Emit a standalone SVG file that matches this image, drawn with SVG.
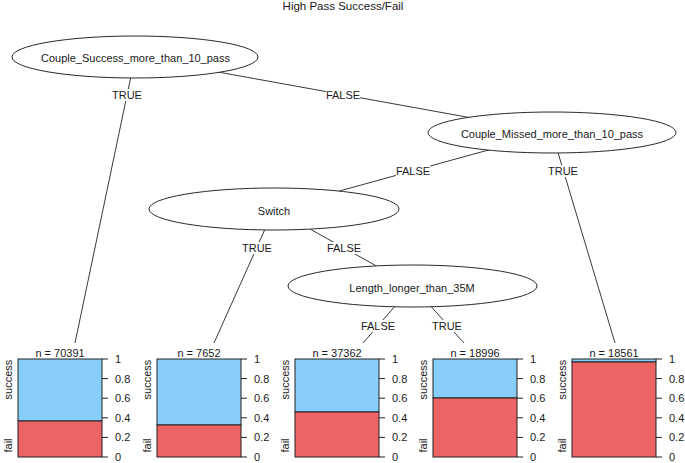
<svg xmlns="http://www.w3.org/2000/svg" width="685" height="463" viewBox="0 0 685 463">
<style>
text{font-family:"Liberation Sans",Arial,sans-serif;font-size:11px;fill:#1a1a1a}
.c{text-anchor:middle}
.edge{stroke:#3a3a3a;stroke-width:1;fill:none}
.node ellipse{fill:#fff;stroke:#2a2a2a;stroke-width:1}
.lb{fill:#fff}
.s{fill:#87CEFA;stroke:#222;stroke-width:1}
.f{fill:#EE6363;stroke:#222;stroke-width:1}
.tk{stroke:#222;stroke-width:1}
</style>
<defs>
<g id="axis">
<line class="tk" x1="84" y1="0" x2="90" y2="0"/>
<line class="tk" x1="84" y1="19.6" x2="90" y2="19.6"/>
<line class="tk" x1="84" y1="39.2" x2="90" y2="39.2"/>
<line class="tk" x1="84" y1="58.8" x2="90" y2="58.8"/>
<line class="tk" x1="84" y1="78.4" x2="90" y2="78.4"/>
<line class="tk" x1="84" y1="98" x2="90" y2="98"/>
<text x="97" y="4">1</text>
<text x="97" y="23.6">0.8</text>
<text x="97" y="43.2">0.6</text>
<text x="97" y="62.8">0.4</text>
<text x="97" y="82.4">0.2</text>
<text x="97" y="102">0</text>
<text class="c" transform="translate(-6.5,20.5) rotate(-90)">success</text>
<text class="c" transform="translate(-6.5,86.5) rotate(-90)">fail</text>
</g>
</defs>
<text class="c" x="343" y="9.5" style="font-size:11.5px">High Pass Success/Fail</text>
<g id="edges">
<line class="edge" x1="135" y1="57" x2="75" y2="343"/>
<line class="edge" x1="135" y1="57" x2="552" y2="132.5"/>
<line class="edge" x1="552" y1="132.5" x2="274" y2="209"/>
<line class="edge" x1="552" y1="132.5" x2="615" y2="343"/>
<line class="edge" x1="274" y1="209" x2="214" y2="343"/>
<line class="edge" x1="274" y1="209" x2="412.5" y2="286"/>
<line class="edge" x1="412.5" y1="286" x2="363" y2="343"/>
<line class="edge" x1="412.5" y1="286" x2="464" y2="343"/>
<rect class="lb" x="112" y="89" width="30" height="12"/>
<text class="c" x="127" y="99">TRUE</text>
<rect class="lb" x="326" y="89" width="34" height="12"/>
<text class="c" x="343" y="99">FALSE</text>
<rect class="lb" x="396" y="165" width="34" height="12"/>
<text class="c" x="413" y="175">FALSE</text>
<rect class="lb" x="548" y="165" width="30" height="12"/>
<text class="c" x="563" y="175">TRUE</text>
<rect class="lb" x="242" y="242" width="30" height="12"/>
<text class="c" x="257" y="252">TRUE</text>
<rect class="lb" x="327" y="242" width="34" height="12"/>
<text class="c" x="344" y="252">FALSE</text>
<rect class="lb" x="361" y="320" width="34" height="12"/>
<text class="c" x="378" y="330">FALSE</text>
<rect class="lb" x="432" y="320" width="30" height="12"/>
<text class="c" x="447" y="330">TRUE</text>
</g>
<g id="n1" class="node">
<ellipse cx="135" cy="57" rx="123" ry="21"/>
<text class="c" x="135.5" y="62">Couple_Success_more_than_10_pass</text>
</g>
<g id="n2" class="node">
<ellipse cx="552" cy="132.5" rx="124" ry="20.5"/>
<text class="c" x="552" y="137.5">Couple_Missed_more_than_10_pass</text>
</g>
<g id="n3" class="node">
<ellipse cx="274" cy="209" rx="125" ry="21"/>
<text class="c" x="274" y="214.5">Switch</text>
</g>
<g id="n4" class="node">
<ellipse cx="412.5" cy="286" rx="124.5" ry="21"/>
<text class="c" x="412" y="292">Length_longer_than_35M</text>
</g>
<g id="t1">
<text class="c" x="60" y="357">n = 70391</text>
<rect class="s" x="18" y="359" width="84" height="62"/>
<rect class="f" x="18" y="421" width="84" height="36"/>
<use href="#axis" x="18" y="359"/>
</g>
<g id="t2">
<text class="c" x="199" y="357">n = 7652</text>
<rect class="s" x="157" y="359" width="84" height="66"/>
<rect class="f" x="157" y="425" width="84" height="32"/>
<use href="#axis" x="157" y="359"/>
</g>
<g id="t3">
<text class="c" x="337" y="357">n = 37362</text>
<rect class="s" x="295" y="359" width="84" height="53"/>
<rect class="f" x="295" y="412" width="84" height="45"/>
<use href="#axis" x="295" y="359"/>
</g>
<g id="t4">
<text class="c" x="475" y="357">n = 18996</text>
<rect class="s" x="433" y="359" width="84" height="39"/>
<rect class="f" x="433" y="398" width="84" height="59"/>
<use href="#axis" x="433" y="359"/>
</g>
<g id="t5">
<text class="c" x="614" y="357">n = 18561</text>
<rect class="s" x="572" y="359" width="84" height="3"/>
<rect class="f" x="572" y="362" width="84" height="95"/>
<use href="#axis" x="572" y="359"/>
</g>
</svg>
